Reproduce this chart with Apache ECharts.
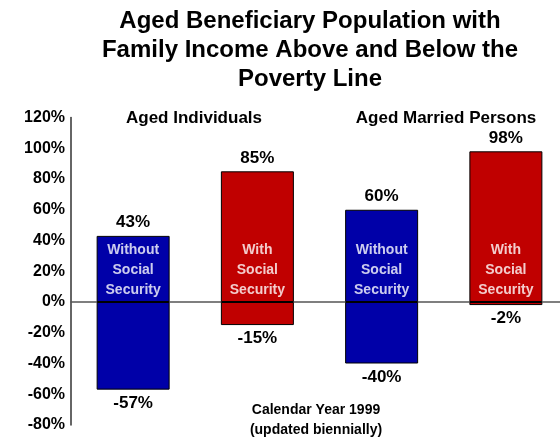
<!DOCTYPE html>
<html>
<head>
<meta charset="utf-8">
<script src="https://cdn.jsdelivr.net/npm/echarts@6/dist/echarts.min.js"></script>
<style>html,body{margin:0;padding:0;background:#fff}#c{width:560px;height:440px}</style>
</head>
<body>
<div id="c"></div>
<script>
var categories = ['Individuals without SS', 'Individuals with SS', 'Married without SS', 'Married with SS'];
var aboveValues = [43, 85, 60, 98];
var belowValues = [-57, -15, -40, -2];
var innerLabels = ['Without\nSocial\nSecurity', 'With\nSocial\nSecurity', 'Without\nSocial\nSecurity', 'With\nSocial\nSecurity'];
var barColors = ['#0000A8', '#C00000', '#0000A8', '#C00000'];
var titleText = 'Aged Beneficiary Population with\nFamily Income Above and Below the\nPoverty Line';
var groupLabels = ['Aged Individuals', 'Aged Married Persons'];
var footnote = 'Calendar Year 1999\n(updated biennially)';

var FONT = 'Liberation Sans, Arial, sans-serif';
var chart = echarts.init(document.getElementById('c'), null, {renderer: 'canvas'});

function colorFn(p) { return barColors[p.dataIndex]; }

var option = {
  animation: false,
  backgroundColor: '#fff',
  grid: {left: 71, top: 117.5, width: 497, bottom: 15, containLabel: false, outerBoundsMode: 'none'},
  xAxis: {
    type: 'category',
    data: categories,
    axisLine: {show: true, onZero: true, lineStyle: {color: '#555', width: 1.5}},
    axisTick: {show: false},
    axisLabel: {show: false},
    splitLine: {show: false}
  },
  yAxis: {
    type: 'value',
    min: -80, max: 120, interval: 20,
    axisLine: {show: true, lineStyle: {color: '#333', width: 1.5}},
    axisTick: {show: false},
    splitLine: {show: false},
    axisLabel: {formatter: '{value}%', color: '#000', fontFamily: FONT, fontWeight: 'bold', fontSize: 16, margin: 6}
  },
  series: [
    {
      type: 'bar', stack: 'v', barWidth: 73,
      data: aboveValues,
      itemStyle: {color: colorFn, borderColor: '#000', borderWidth: 1},
      label: {show: true, position: 'top', distance: 5, formatter: '{c}%', color: '#000', fontFamily: FONT, fontWeight: 'bold', fontSize: 17}
    },
    {
      type: 'bar', stack: 'v', barWidth: 73,
      data: belowValues,
      itemStyle: {color: colorFn, borderColor: '#000', borderWidth: 1},
      label: {show: true, position: 'bottom', distance: 5, formatter: '{c}%', color: '#000', fontFamily: FONT, fontWeight: 'bold', fontSize: 17}
    },
    {
      type: 'scatter', symbolSize: 0, silent: true, z: 5,
      data: categories.map(function (c, i) { return {value: 21, label: {formatter: innerLabels[i]}}; }),
      label: {show: true, position: 'inside', color: '#fff', fontFamily: FONT, fontWeight: 'bold', fontSize: 14, lineHeight: 20, align: 'center', verticalAlign: 'middle'}
    }
  ],
  graphic: [
    {type: 'text', x: 310, y: 50, style: {text: titleText, fill: '#000', font: 'bold 24px ' + FONT, textAlign: 'center', textVerticalAlign: 'middle', lineHeight: 29}},
    {type: 'text', x: 194, y: 118, style: {text: groupLabels[0], fill: '#000', font: 'bold 17px ' + FONT, textAlign: 'center', textVerticalAlign: 'middle'}},
    {type: 'text', x: 446, y: 118, style: {text: groupLabels[1], fill: '#000', font: 'bold 17px ' + FONT, textAlign: 'center', textVerticalAlign: 'middle'}},
    {type: 'text', x: 316, y: 420, style: {text: footnote, fill: '#000', font: 'bold 14px ' + FONT, textAlign: 'center', textVerticalAlign: 'middle', lineHeight: 20}}
  ]
};
chart.setOption(option);
</script>
</body>
</html>
